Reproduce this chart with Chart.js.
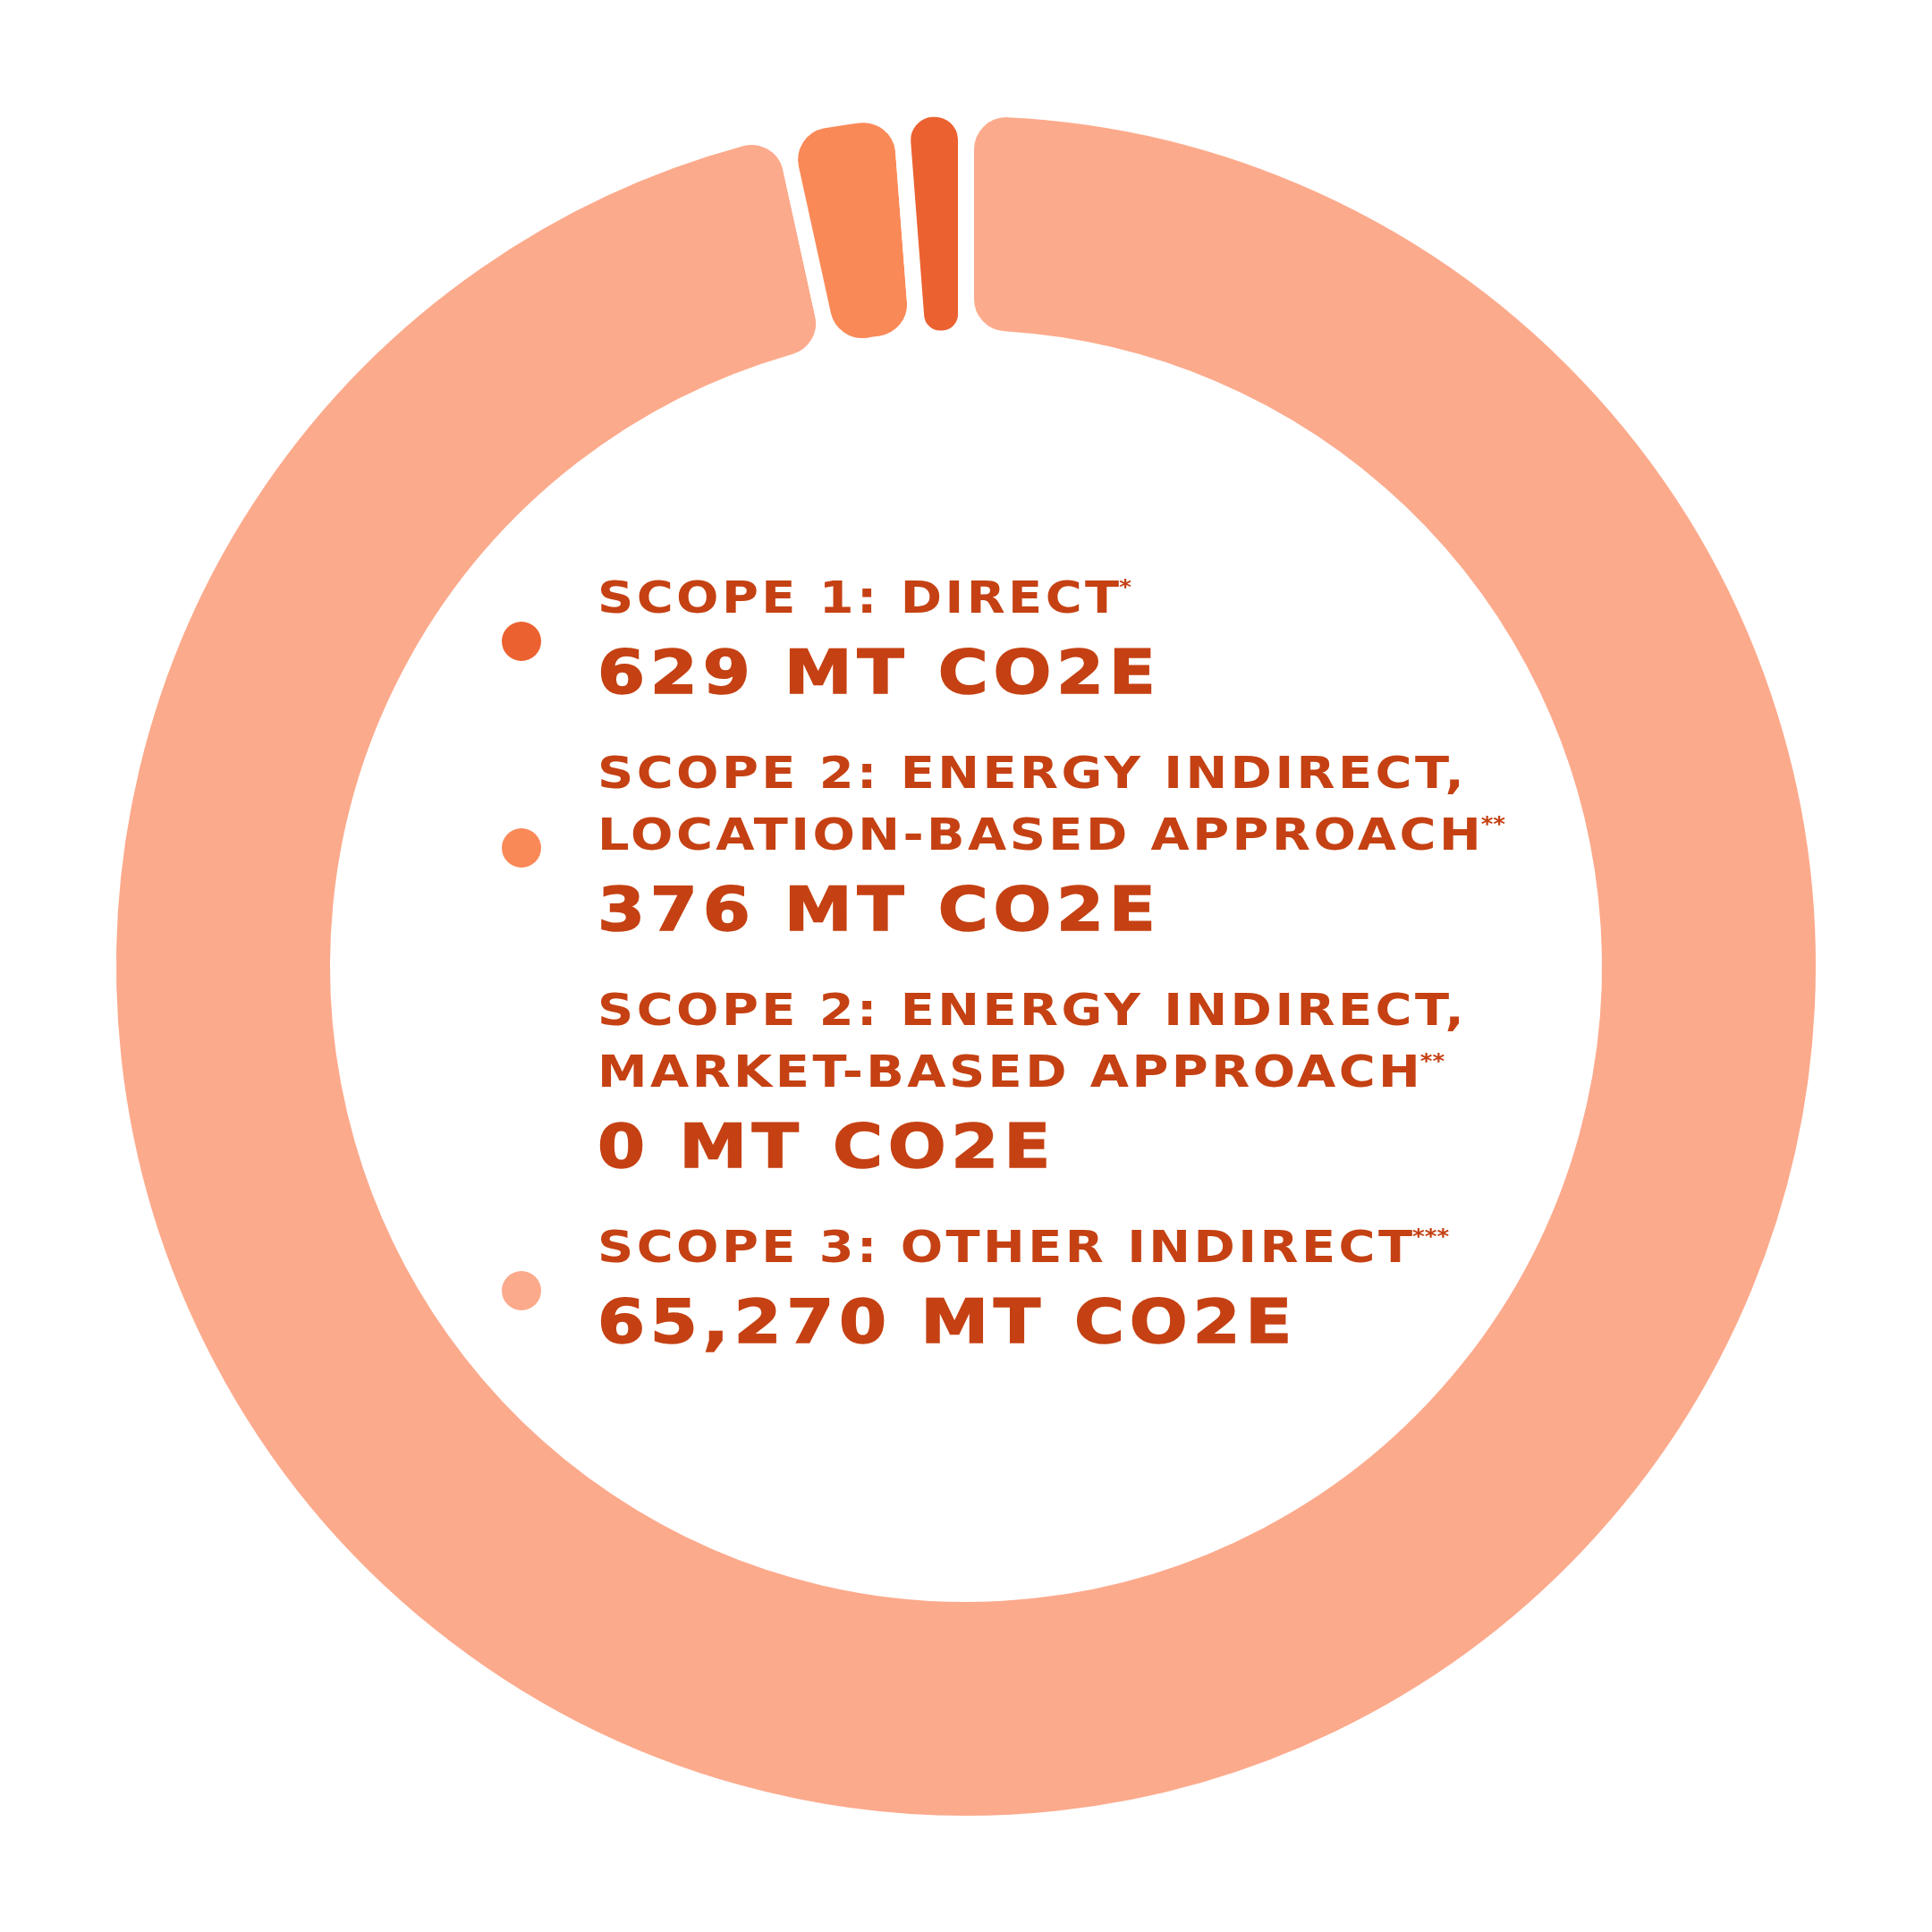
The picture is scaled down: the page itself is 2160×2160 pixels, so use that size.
<!DOCTYPE html>
<html>
<head>
<meta charset="utf-8">
<script src="https://cdn.jsdelivr.net/npm/chart.js@4.4.1/dist/chart.umd.min.js"></script>
<style>
  html, body { margin: 0; padding: 0; background: #ffffff; }
  #wrap { position: relative; width: 2160px; height: 2160px; }
  #chart-canvas { position: absolute; left: 0; top: 0; }
  #legend {
    position: absolute; left: 561px; top: 634px;
    font-family: "DejaVu Sans", sans-serif; font-weight: bold; color: #c54113;
  }
  .item { position: relative; margin-bottom: 40px; padding-left: 107px; }
  .dot { position: absolute; left: 0; top: 50%; width: 44px; height: 44px; margin-top: -17px; border-radius: 50%; }
  .title { font-size: 49px; line-height: 69px; letter-spacing: 3px; white-space: nowrap;
           transform: scaleX(1.14); transform-origin: left center; }
  .value { font-size: 67px; line-height: 75px; margin-top: 12px; letter-spacing: 5px; white-space: nowrap;
           -webkit-text-stroke: 1.5px #c54113;
           transform: scaleX(1.14); transform-origin: left center; }
  .title sup { font-size: 23px; vertical-align: top; line-height: 0; position: relative; top: 22px;
               letter-spacing: 0; margin-left: -3px; }
</style>
</head>
<body>
<div id="wrap">
  <canvas id="chart-canvas" width="2160" height="2160"></canvas>
  <div id="legend"></div>
</div>
<script>
// categories, in legend order (top to bottom)
let titleLines = [
    ['SCOPE 1: DIRECT'],
    ['SCOPE 2: ENERGY INDIRECT,', 'LOCATION-BASED APPROACH'],
    ['SCOPE 2: ENERGY INDIRECT,', 'MARKET-BASED APPROACH'],
    ['SCOPE 3: OTHER INDIRECT']
];
let footnoteMarks = ['*', '**', '**', '***'];
let emissions = [629, 376, 0, 65270];            // MT CO2e, as printed
let ringShares = [1.22, 2.22, 0, 96.56];         // share of the ring each arc takes in the picture (%)
let sliceColors = ['#ec6130', '#fa8958', '#fa8958', '#fcaa8c'];
let showDot = [true, true, false, true];

let chartCanvas = document.getElementById('chart-canvas');
let legendEl = document.getElementById('legend');

// ring runs clockwise from 12 o'clock: scope 3 first, scope 1 last
let order = [3, 2, 1, 0];

const myChart = new Chart(chartCanvas, {
    type: 'doughnut',
    data: {
        labels: order.map(i => titleLines[i].join(' ')),
        datasets: [{
            data: order.map(i => ringShares[i]),
            backgroundColor: order.map(i => sliceColors[i]),
            borderColor: '#ffffff',   // white border makes the even gaps
            borderWidth: 18,
            borderRadius: 45
        }]
    },
    options: {
        responsive: false,
        animation: false,
        cutout: '73.2%',
        rotation: 0,
        layout: { padding: 112 },
        plugins: {
            legend: { display: false },
            tooltip: { enabled: false }
        }
    }
});

// legend drawn as html text
titleLines.forEach((lines, i) => {
    let item = document.createElement('div');
    item.className = 'item';

    if (showDot[i]) {
        let dot = document.createElement('div');
        dot.className = 'dot';
        dot.style.background = sliceColors[i];
        item.appendChild(dot);
    }

    lines.forEach((txt, k) => {
        let t = document.createElement('div');
        t.className = 'title';
        t.textContent = txt;
        if (k === lines.length - 1) {
            let sup = document.createElement('sup');
            sup.textContent = footnoteMarks[i];
            t.appendChild(sup);
        }
        item.appendChild(t);
    });

    let v = document.createElement('div');
    v.className = 'value';
    v.textContent = emissions[i].toLocaleString('en-US') + ' MT CO2E';
    item.appendChild(v);

    legendEl.appendChild(item);
});
</script>
</body>
</html>
